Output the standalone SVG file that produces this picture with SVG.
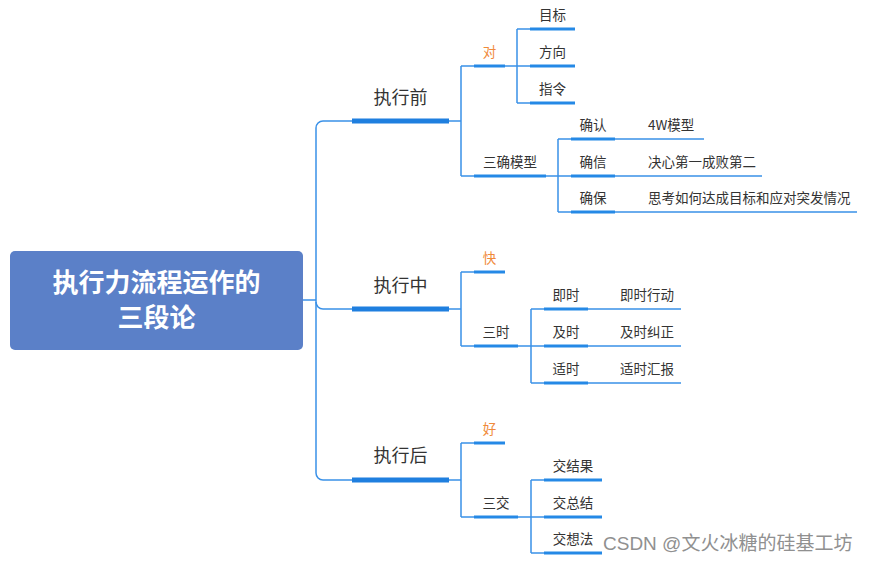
<svg xmlns="http://www.w3.org/2000/svg" width="870" height="562" viewBox="0 0 870 562">
<style>
text{font-family:"Noto Sans CJK SC","Microsoft YaHei","Liberation Sans",sans-serif;fill:#333333}
.c{text-anchor:middle}
.l1{font-size:18px}
.l2{font-size:13.5px}
.or{fill:#f08a3a}
.root{font-size:26px;font-weight:bold;fill:#ffffff;text-anchor:middle}
.conn{fill:none;stroke:#3a91e8;stroke-width:1.5}
.u1{stroke:#1f7fdf;stroke-width:5;fill:none}
.u2{stroke:#2589e6;stroke-width:3;fill:none}
.wm{font-family:"Liberation Sans","Noto Sans CJK SC",sans-serif;font-size:19px;fill:#909090}
</style>
<rect width="870" height="562" fill="#ffffff"/>
<g id="connectors" class="conn">
<path d="M303,300 H316"/>
<path d="M352,121 H323 A7,7 0 0 0 316,128 V473 A7,7 0 0 0 323,480 H352"/>
<path d="M316,302 A7,7 0 0 0 323,309 H352"/>
<path d="M449,121 H461 M461,66 V176 M461,66 H474 M461,176 H474"/>
<path d="M505,66 H517 M517,29 V103 M517,29 H530 M517,66 H530 M517,103 H530"/>
<path d="M546,176 H558 M558,139 V212 M558,139 H571 M558,176 H571 M558,212 H571"/>
<path d="M615,139 H704 M615,176 H762 M615,212 H857"/>
<path d="M449,309 H461 M461,272 V346 M461,272 H474 M461,346 H474"/>
<path d="M518,346 H531 M531,309 V383 M531,309 H544 M531,346 H544 M531,383 H544"/>
<path d="M588,309 H681 M588,346 H681 M588,383 H681"/>
<path d="M449,480 H461 M461,443 V517 M461,443 H474 M461,517 H474"/>
<path d="M518,517 H531 M531,480 V553 M531,480 H544 M531,517 H544 M531,553 H544"/>
</g>
<g id="root">
<rect x="10" y="251" width="293" height="99" rx="5" fill="#5b80c8"/>
<text class="root" x="156.5" y="292">执行力流程运作的</text>
<text class="root" x="156.5" y="327">三段论</text>
</g>
<g id="n-before"><path class="u1" d="M352,121 H449"/><text class="c l1" x="400.5" y="104">执行前</text></g>
<g id="n-dui"><path class="u2" d="M474,66 H505"/><text class="c l2 or" x="489.5" y="57">对</text></g>
<g id="n-mubiao"><path class="u2" d="M530,29 H575"/><text class="c l2" x="552.5" y="20">目标</text></g>
<g id="n-fangxiang"><path class="u2" d="M530,66 H575"/><text class="c l2" x="552.5" y="57">方向</text></g>
<g id="n-zhiling"><path class="u2" d="M530,103 H575"/><text class="c l2" x="552.5" y="94">指令</text></g>
<g id="n-sanque"><path class="u2" d="M474,176 H546"/><text class="c l2" x="510" y="167">三确模型</text></g>
<g id="n-queren"><path class="u2" d="M571,139 H615"/><text class="c l2" x="593" y="130">确认</text></g>
<g id="n-quexin"><path class="u2" d="M571,176 H615"/><text class="c l2" x="593" y="167">确信</text></g>
<g id="n-quebao"><path class="u2" d="M571,212 H615"/><text class="c l2" x="593" y="203">确保</text></g>
<g id="n-4w"><text class="l2" x="648" y="130">4W模型</text></g>
<g id="n-juexin"><text class="l2" x="648" y="167">决心第一成败第二</text></g>
<g id="n-sikao"><text class="l2" x="648" y="203">思考如何达成目标和应对突发情况</text></g>
<g id="n-during"><path class="u1" d="M352,309 H449"/><text class="c l1" x="400.5" y="292">执行中</text></g>
<g id="n-kuai"><path class="u2" d="M474,272 H505"/><text class="c l2 or" x="489.5" y="263">快</text></g>
<g id="n-sanshi"><path class="u2" d="M474,346 H518"/><text class="c l2" x="496" y="337">三时</text></g>
<g id="n-jishi1"><path class="u2" d="M544,309 H588"/><text class="c l2" x="566" y="300">即时</text></g>
<g id="n-jishi2"><path class="u2" d="M544,346 H588"/><text class="c l2" x="566" y="337">及时</text></g>
<g id="n-shishi"><path class="u2" d="M544,383 H588"/><text class="c l2" x="566" y="374">适时</text></g>
<g id="n-jishixd"><text class="l2" x="620" y="300">即时行动</text></g>
<g id="n-jishijz"><text class="l2" x="620" y="337">及时纠正</text></g>
<g id="n-shishihb"><text class="l2" x="620" y="374">适时汇报</text></g>
<g id="n-after"><path class="u1" d="M352,480 H449"/><text class="c l1" x="400.5" y="462">执行后</text></g>
<g id="n-hao"><path class="u2" d="M474,443 H505"/><text class="c l2 or" x="489.5" y="434">好</text></g>
<g id="n-sanjiao"><path class="u2" d="M474,517 H518"/><text class="c l2" x="496" y="508">三交</text></g>
<g id="n-jjg"><path class="u2" d="M544,480 H602"/><text class="c l2" x="573" y="471">交结果</text></g>
<g id="n-jzj"><path class="u2" d="M544,517 H602"/><text class="c l2" x="573" y="508">交总结</text></g>
<g id="n-jxf"><path class="u2" d="M544,553 H602"/><text class="c l2" x="573" y="544">交想法</text></g>
<text class="wm" x="603" y="550">CSDN @文火冰糖的硅基工坊</text>
</svg>
